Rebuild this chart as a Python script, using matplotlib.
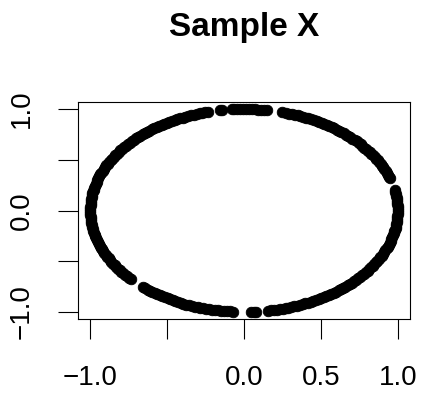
import numpy as np
import matplotlib
matplotlib.use("Agg")
import matplotlib.pyplot as plt

plt.rcParams["font.family"] = ["Liberation Sans", "DejaVu Sans"]

# -----------------------------
# Data: angles (degrees) of the points on the unit circle
# -----------------------------
arc_a = [-87.4, -86.3, -85.4, -81.0, -79.9, -78.7, -77.6, -76.6, -75.4, -74.3,
         -73.2, -72.1, -71.0, -69.8, -68.8, -67.6, -66.5, -65.4, -64.3, -63.2,
         -62.0, -61.0, -59.8, -58.7, -57.6, -56.5, -55.4, -54.2, -53.2, -52.0,
         -50.9, -49.8, -48.7, -47.6, -46.4, -45.4, -44.2, -43.1, -42.0, -40.9,
         -39.8, -38.6, -37.6, -36.4, -35.3, -34.2, -33.1, -32.0, -30.8, -29.8,
         -28.6, -27.5, -26.4, -25.3, -24.2, -23.0, -22.0, -20.8, -19.7, -18.6,
         -17.5, -16.4, -15.2, -14.2, -13.0, -11.9, -10.8, -9.7, -8.6, -7.4,
         -6.4, -5.2, -4.1, -3.0, -1.9, -0.8, 0.4, 1.4, 2.6, 3.7,
         4.8, 5.9, 7.0, 8.2, 9.2, 10.4, 11.4]
arc_b = [18.4, 19.5, 20.6, 21.8, 22.8, 24.0, 25.1, 26.2, 27.3, 28.4,
         29.6, 30.6, 31.8, 32.9, 34.0, 35.1, 36.2, 37.4, 38.4, 39.6,
         40.7, 41.8, 42.9, 44.0, 45.2, 46.2, 47.4, 48.5, 49.6, 50.7,
         51.8, 53.0, 54.0, 55.2, 56.3, 57.4, 58.5, 59.6, 60.8, 61.8,
         63.0, 64.1, 65.2, 66.3, 67.4, 68.6, 69.6, 70.8, 71.9, 73.0,
         74.1, 75.5]
arc_c = [81.4, 82.5, 83.6, 84.7, 85.8, 87.0, 88.0, 89.2, 90.3, 91.4,
         92.5, 93.6, 94.6]
arc_d = [98.2, 99.0]
arc_e = [103.5, 104.6, 105.7, 106.8, 107.9, 109.0, 110.2, 111.2, 112.4, 113.5,
         114.6, 115.7, 116.8, 118.0, 119.0, 120.2, 121.3, 122.4, 123.5, 124.6,
         125.8, 126.8, 128.0, 129.1, 130.2, 131.3, 132.4, 133.6, 134.6, 135.8,
         136.9, 138.0, 139.1, 140.2, 141.4, 142.4, 143.6, 144.7, 145.8, 146.9,
         148.0, 149.2, 150.2, 151.4, 152.5, 153.6, 154.7, 155.8, 157.0, 158.0,
         159.2, 160.3, 161.4, 162.5, 163.6, 164.8, 165.8, 167.0, 168.1, 169.2,
         170.3, 171.4, 172.6, 173.6, 174.8, 175.9, 177.0, 178.1, 179.2, 180.4,
         181.4, 182.6, 183.7, 184.8, 185.9, 187.0, 188.2, 189.2, 190.4, 191.5,
         192.6, 193.7, 194.8, 196.0, 197.0, 198.2, 199.3, 200.4, 201.5, 202.6,
         203.8, 204.8, 206.0, 207.1, 208.2, 209.3, 210.4, 211.6, 212.6, 213.8,
         214.9, 216.0, 217.1, 218.2, 219.4, 220.4, 221.5, 222.5]
arc_f = [229.0, 230.1, 231.2, 232.4, 233.4, 234.6, 235.7, 236.8, 237.9, 239.0,
         240.2, 241.2, 242.4, 243.5, 244.6, 245.7, 246.8, 248.0, 249.0, 250.2,
         251.3, 252.4, 253.5, 254.6, 255.8, 256.8, 258.0, 259.1, 260.2, 261.3,
         262.4, 263.6, 264.6, 266.0]

x_ticks = [-1.0, -0.5, 0.0, 0.5, 1.0]
x_labels = ["\u22121.0", "", "0.0", "0.5", "1.0"]
y_ticks = [-1.0, -0.5, 0.0, 0.5, 1.0]
y_labels = ["\u22121.0", "", "0.0", "", "1.0"]

theta = np.deg2rad(np.concatenate([arc_a, arc_b, arc_c, arc_d, arc_e, arc_f]))
xs = np.cos(theta)
ys = np.sin(theta)

# -----------------------------
# Plot
# -----------------------------
fig = plt.figure(figsize=(4.22, 3.94), dpi=100)
ax = fig.add_axes([78 / 422, 1 - 319 / 394, 332 / 422, 217 / 394])

ax.plot(xs, ys, "o", color="black", markersize=7.6, markeredgewidth=0.6,
        linestyle="none")

ax.set_xlim(-1.08, 1.08)
ax.set_ylim(-1.07, 1.07)

ax.set_xticks(x_ticks)
ax.set_xticklabels(x_labels, fontsize=20)
ax.set_yticks(y_ticks)
ax.set_yticklabels(y_labels, fontsize=20, rotation=90, va="center")

ax.tick_params(axis="both", direction="out", length=14.4, width=0.8)
ax.tick_params(axis="x", pad=19)
ax.tick_params(axis="y", pad=17)
for s in ax.spines.values():
    s.set_linewidth(0.8)

fig.text(244 / 422, 1 - 36 / 394, "Sample X", ha="center", va="baseline",
         fontsize=24, fontweight="bold")

fig.savefig("out.png", dpi=100)
